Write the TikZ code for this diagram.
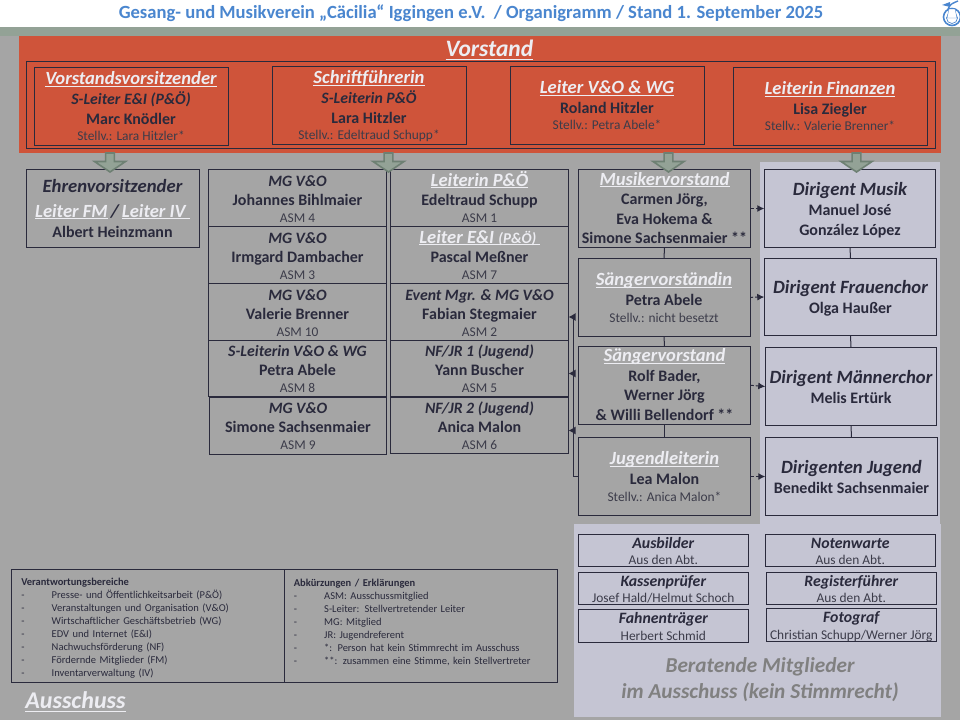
\documentclass[tikz,border=0pt]{standalone}
\usepackage{fontspec}
\setmainfont{Carlito}
\usetikzlibrary{arrows.meta,shapes.arrows}
\definecolor{pagegray}{HTML}{A5A5A5}
\definecolor{stripgreen}{HTML}{93A296}
\definecolor{boardred}{HTML}{CF543A}
\definecolor{panelblue}{HTML}{C5C5D3}
\definecolor{boxline}{HTML}{2A2A3C}
\definecolor{hdtext}{HTML}{EDEDF2}
\definecolor{subtext}{HTML}{3C3C4A}
\definecolor{titleblue}{HTML}{4A86CF}
\definecolor{arrowgreen}{HTML}{6E8073}
\definecolor{fadetext}{HTML}{808080}
\newcommand{\hdline}[2][-2.1pt]{\setbox0\hbox{#2}\rlap{\rule[#1]{\wd0}{0.9pt}}\box0}
\newcommand{\rowstrut}[2]{\rule[-#2]{0pt}{\dimexpr#1+#2\relax}}
\newcommand{\rowset}[5]{\baselineskip=0pt \lineskip=0pt \lineskiplimit=0pt \def\hdhi{#1pt}\def\rolhi{#2pt}\def\namhi{#3pt}\def\subhi{#4pt}\def\subdp{#5pt}}
\newcommand{\hdtxt}[1]{\fontsize{18.6}{20}\bfseries\itshape\selectfont\color{hdtext}\rowstrut{\hdhi}{4pt}\hdline{#1}}
\newcommand{\roltxt}[1]{\fontsize{15.8}{18}\bfseries\itshape\selectfont\color{boxline}\rowstrut{\rolhi}{4pt}#1}
\newcommand{\dirtxt}[1]{\fontsize{18.7}{20}\bfseries\itshape\selectfont\color{boxline}\rowstrut{\hdhi}{4pt}#1}
\newcommand{\namtxt}[1]{\fontsize{16}{18}\bfseries\selectfont\color{boxline}\rowstrut{\namhi}{4pt}#1}
\newcommand{\subtxt}[1]{\fontsize{13.4}{16}\normalfont\selectfont\color{subtext}\rowstrut{\subhi}{\subdp}#1}
\newcommand{\legitem}[1]{\makebox[30.5pt][l]{-}#1}
\tikzset{
	orgbox/.style={draw=boxline, line width=1pt, inner sep=0pt, outer sep=0pt, align=center, text=boxline},
	boxsize/.style 2 args={minimum width=#1 pt, minimum height=#2 pt},
	rows/.style n args={5}{font=\rowset{#1}{#2}{#3}{#4}{#5}},
	boardbox/.style={orgbox, boxsize={194}{78}, rows={17}{16}{16}{12}{4}},
	listbox/.style={orgbox, boxsize={178}{56.5}, rows={16}{16}{15}{13}{4}},
	voicebox/.style={orgbox, boxsize={172.5}{78}, rows={17}{16}{16}{13}{4}},
	longbox/.style={orgbox, boxsize={172.5}{78}, rows={15.5}{16}{15.5}{13}{4}},
	smallbox/.style={orgbox, boxsize={170}{32}, rows={14}{14}{14}{12.5}{1.5}},
	legendbox/.style={orgbox, anchor=north west, align=left, inner xsep=9.5pt, text width=253pt, boxsize={272.5}{113}, font=\fontsize{10.5}{13}\selectfont},
	blockarrow/.style={single arrow, shape border rotate=270, draw=arrowgreen, line width=1.6pt, fill=stripgreen, inner sep=3.5pt, minimum width=31pt, minimum height=19pt, single arrow head extend=11pt, single arrow tip angle=112},
	link/.style={draw=boxline, line width=1pt},
	dashlink/.style={draw=boxline, line width=1pt, densely dashed, -{Latex[length=7pt,width=7pt]}},
	backlink/.style={draw=boxline, line width=1.1pt, -{Latex[length=7pt,width=8pt]}},
	bigtext/.style={inner sep=0pt, align=center},
}
\begin{document}
\begin{tikzpicture}[x=1pt, y=-1pt]
	\useasboundingbox (0,0) rectangle (960,720);
	% backgrounds
	\fill[white] (0,0) rectangle (960,27);
	\fill[pagegray] (0,35) rectangle (960,720);
	\fill[stripgreen] (0,27) rectangle (960,36);
	\fill[boardred] (19,36) rectangle (941,153);
	\fill[panelblue] (760,162) rectangle (940,524);
	\fill[panelblue] (574,524) rectangle (941,717);
	% title and horn
	\node[bigtext, text=titleblue, font=\fontsize{18.6}{20}\bfseries\selectfont] (title) at (471,13) {Gesang- und Musikverein „Cäcilia“ Iggingen e.V.\ \ / Organigramm / Stand 1. September 2025};
	\begin{scope}
		\clip (935,0) rectangle (960,27);
		\draw[titleblue, line width=1.6pt] (952,17) circle (8.5);
		\draw[titleblue, line width=.7pt] (952,18) circle (5.5);
		\fill[white, draw=titleblue, line width=.4pt] (949,9) -- (955,9) -- (957,18) -- (947,18) -- cycle;
		\draw[titleblue, line width=1.4pt] (948,9) .. controls (950,4) and (953,3) .. (958,1);
		\fill[titleblue] (942,5) -- (950,2) -- (950,7) -- cycle;
	\end{scope}
	% Vorstand
	\node[bigtext] (vorstand) at (489.5,50) {\fontsize{23.5}{24}\bfseries\itshape\selectfont\color{hdtext}\hdline[-3.2pt]{Vorstand}};
	\node[orgbox, boxsize={908.5}{87.5}] (vorrahmen) at (480.75,104.75) {};
	\node[boardbox] (vorsitz) at (131,106) {\hdtxt{Vorstandsvorsitzender}\\\roltxt{S-Leiter E\&I (P\&Ö)}\\\namtxt{Marc Knödler}\\\subtxt{Stellv.: Lara Hitzler*}};
	\node[boardbox] (schrift) at (369,105) {\hdtxt{Schriftführerin}\\\roltxt{S-Leiterin P\&Ö}\\\namtxt{Lara Hitzler}\\\subtxt{Stellv.: Edeltraud Schupp*}};
	\node[boardbox] (leitvo) at (607,105) {\hdtxt{Leiter V\&O \& WG}\\\namtxt{Roland Hitzler}\\\subtxt{Stellv.: Petra Abele*}};
	\node[boardbox] (finanz) at (830,106) {\hdtxt{Leiterin Finanzen}\\\namtxt{Lisa Ziegler}\\\subtxt{Stellv.: Valerie Brenner*}};
	% Ehrenvorsitz
	\node[voicebox, boxsize={173}{78}] (ehren) at (112.5,208) {\dirtxt{Ehrenvorsitzender}\\[4pt]\hdtxt{Leiter FM}\color{boxline}\,/\,\hdtxt{Leiter IV\ }\\\namtxt{Albert Heinzmann}};
	% Spalte MG
	\node[listbox] (bihl) at (297.5,198) {\roltxt{MG V\&O}\\\namtxt{Johannes Bihlmaier}\\\subtxt{ASM 4}};
	\node[listbox] (damb) at (297.5,255) {\roltxt{MG V\&O}\\\namtxt{Irmgard Dambacher}\\\subtxt{ASM 3}};
	\node[listbox] (brenner) at (297.5,312) {\roltxt{MG V\&O}\\\namtxt{Valerie Brenner}\\\subtxt{ASM 10}};
	\node[listbox] (abele) at (297.5,368.5) {\roltxt{S-Leiterin V\&O \& WG}\\\namtxt{Petra Abele}\\\subtxt{ASM 8}};
	\node[listbox, boxsize={177.5}{57}] (sachs) at (298,425.5) {\roltxt{MG V\&O}\\\namtxt{Simone Sachsenmaier}\\\subtxt{ASM 9}};
	% Spalte Leiter
	\node[listbox] (schupp) at (479.5,198) {\hdtxt{Leiterin P\&Ö}\\\namtxt{Edeltraud Schupp}\\\subtxt{ASM 1}};
	\node[listbox] (messner) at (479.5,255) {\hdtxt{Leiter E\&I \fontsize{15}{18}\selectfont(P\&Ö)\ }\\\namtxt{Pascal Meßner}\\\subtxt{ASM 7}};
	\node[listbox] (event) at (479.5,312) {\roltxt{Event Mgr. \& MG V\&O}\\\namtxt{Fabian Stegmaier}\\\subtxt{ASM 2}};
	\node[listbox] (nfeins) at (479.5,368.5) {\roltxt{NF/JR 1 (Jugend)}\\\namtxt{Yann Buscher}\\\subtxt{ASM 5}};
	\node[listbox] (nfzwei) at (479.5,425.5) {\roltxt{NF/JR 2 (Jugend)}\\\namtxt{Anica Malon}\\\subtxt{ASM 6}};
	% Stimmvorstaende
	\node[longbox, boxsize={172.5}{78.5}] (musiker) at (664.5,208.5) {\hdtxt{Musikervorstand}\\\namtxt{Carmen Jörg,}\\\namtxt{Eva Hokema \&}\\\namtxt{Simone Sachsenmaier **}};
	\node[voicebox, boxsize={172}{78}] (saengerin) at (664,297.3) {\hdtxt{Sängervorständin}\\\namtxt{Petra Abele}\\\subtxt{Stellv.: nicht besetzt}};
	\node[longbox] (saenger) at (664.5,385.3) {\hdtxt{Sängervorstand}\\\namtxt{Rolf Bader,}\\\namtxt{Werner Jörg}\\\namtxt{\& Willi Bellendorf **}};
	\node[voicebox, boxsize={172.5}{77.5}] (jugend) at (664.5,476.5) {\hdtxt{Jugendleiterin}\\\namtxt{Lea Malon}\\\subtxt{Stellv.: Anica Malon*}};
	% Dirigenten
	\node[voicebox, boxsize={171.5}{78.5}] (dmusik) at (850,208.5) {\dirtxt{Dirigent Musik}\\\namtxt{Manuel José}\\\namtxt{González López}};
	\node[voicebox, boxsize={172.5}{77.5}] (dfrauen) at (850.5,297) {\dirtxt{Dirigent Frauenchor}\\\namtxt{Olga Haußer}};
	\node[voicebox, boxsize={171.5}{78.5}] (dmaenner) at (851,386.5) {\dirtxt{Dirigent Männerchor}\\\namtxt{Melis Ertürk}};
	\node[voicebox, boxsize={172.5}{77.5}] (djugend) at (851.5,476.5) {\dirtxt{Dirigenten Jugend}\\\namtxt{Benedikt Sachsenmaier}};
	% Blockpfeile
	\node[blockarrow] (pfeila) at (110,161) {};
	\node[blockarrow] (pfeilb) at (388.5,161) {};
	\node[blockarrow] (pfeilc) at (668.5,161) {};
	\node[blockarrow] (pfeild) at (856.5,161) {};
	% Verbindungen
	\draw[link] (musiker.south) -- (saengerin.north);
	\draw[link] (saengerin.south) -- (saenger.north);
	\draw[link] (saenger.south) -- (jugend.north);
	\draw[link] (dmusik.south) -- (dfrauen.north);
	\draw[link] (dfrauen.south) -- (dmaenner.north);
	\draw[link] (dmaenner.south) -- (djugend.north);
	\draw[dashlink] (musiker.east) -- (dmusik.west);
	\draw[dashlink] (saengerin.east) -- (dfrauen.west);
	\draw[dashlink] (saenger.east) -- (dmaenner.west);
	\draw[dashlink] (jugend.east) -- (djugend.west);
	\coordinate (trunk) at (573.5,476.5);
	\draw[backlink] (jugend.west) -- (trunk) |- ([yshift=-5pt]event.east);
	\draw[backlink] (trunk) |- ([yshift=-5pt]nfeins.east);
	\draw[backlink] (trunk) |- ([yshift=-5pt]nfzwei.east);
	% Legende
	\node[legendbox] (bereiche) at (11.5,569.5) {\rule{0pt}{11pt}\textbf{Verantwortungsbereiche}\\\legitem{Presse- und Öffentlichkeitsarbeit (P\&Ö)}\\\legitem{Veranstaltungen und Organisation (V\&O)}\\\legitem{Wirtschaftlicher Geschäftsbetrieb (WG)}\\\legitem{EDV und Internet (E\&I)}\\\legitem{Nachwuchsförderung (NF)}\\\legitem{Fördernde Mitglieder (FM)}\\\legitem{Inventarverwaltung (IV)}};
	\node[legendbox, boxsize={273.5}{113}, text width=254pt] (abk) at (284,569.5) {\rule{0pt}{11pt}\textbf{Abkürzungen / Erklärungen}\\\legitem{ASM: Ausschussmitglied}\\\legitem{S-Leiter: Stellvertretender Leiter}\\\legitem{MG: Mitglied}\\\legitem{JR: Jugendreferent}\\\legitem{*: Person hat kein Stimmrecht im Ausschuss}\\\legitem{**: zusammen eine Stimme, kein Stellvertreter}\\\mbox{}};
	\node[bigtext] (ausschuss) at (75.5,702) {\fontsize{24}{26}\bfseries\itshape\selectfont\color{hdtext}\hdline[-3.2pt]{Ausschuss}};
	% Beratende Mitglieder
	\node[smallbox] (ausbilder) at (663.3,550.3) {\roltxt{Ausbilder}\\\subtxt{Aus den Abt.}};
	\node[smallbox] (kasse) at (663.3,588.3) {\roltxt{Kassenprüfer}\\\subtxt{Josef Hald/Helmut Schoch}};
	\node[smallbox, boxsize={170}{33}] (fahne) at (663.3,625.8) {\roltxt{Fahnenträger}\\\subtxt{Herbert Schmid}};
	\node[smallbox] (noten) at (850.3,550.3) {\roltxt{Notenwarte}\\\subtxt{Aus den Abt.}};
	\node[smallbox] (register) at (851.3,588.3) {\roltxt{Registerführer}\\\subtxt{Aus den Abt.}};
	\node[smallbox] (foto) at (851.3,625.3) {\roltxt{Fotograf}\\\subtxt{Christian Schupp/Werner Jörg}};
	\node[bigtext, text=fadetext, font=\fontsize{21.3}{26}\bfseries\itshape\selectfont] (beratend) at (760,680) {Beratende Mitglieder\\im Ausschuss (kein Stimmrecht)};
\end{tikzpicture}
\end{document}
